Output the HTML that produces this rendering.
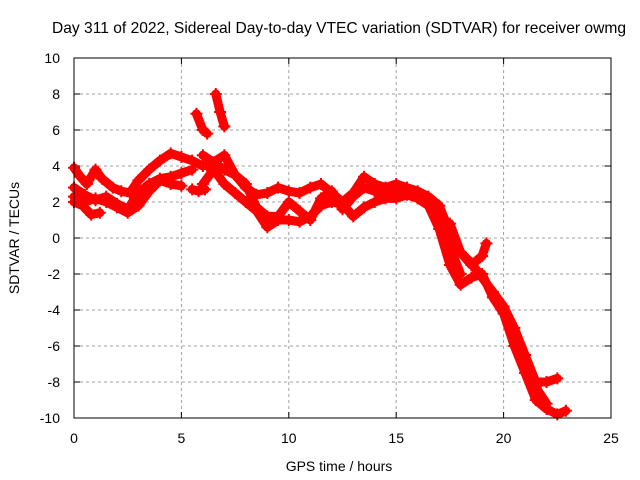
<!DOCTYPE html>
<html><head><meta charset="utf-8"><style>
body{margin:0;background:#fff}
svg{display:block;font-family:"Liberation Sans",sans-serif;font-size:14px}
</style></head><body>
<svg id="chart" width="640" height="480">
<text x="339" y="33" text-anchor="middle" style="font-size:15.6px">Day 311 of 2022, Sidereal Day-to-day VTEC variation (SDTVAR) for receiver owmg</text>
<g id="grid"></g>
<g id="axes"></g>
<g id="series"></g>
<rect x="74" y="58" width="537" height="360" fill="none" stroke="#000" stroke-width="1"/>
<text x="339" y="471" text-anchor="middle">GPS time / hours</text>
<text transform="translate(19,238) rotate(-90)" text-anchor="middle">SDTVAR / TECUs</text>
</svg>
<script>
const xTicks=[0,5,10,15,20,25];
const yTicks=[-10,-8,-6,-4,-2,0,2,4,6,8,10];
const tA=[0,0.3,0.6,1.0,1.3,1.8,2.2,2.6,3.0,3.5,4.0,4.5,5.0,5.5,6.0];
const vA=[3.9,3.4,3.0,3.8,3.3,2.8,2.6,2.5,3.2,3.8,4.3,4.7,4.5,4.3,4.0];
const tB=[0,0.5,1.0,1.5,2.0,2.5,3.0,3.5,4.0,4.5,5.0,5.5];
const vB=[2.8,2.4,2.1,2.3,1.9,1.6,2.5,3.0,3.3,3.4,3.6,3.8];
const tC=[0,0.4,0.8,1.2];
const vC=[2.0,1.8,1.3,1.4];
const tD=[0,0.5,1.0,1.5,2.0,2.5,3.0,3.5,4.0,4.5,5.0];
const vD=[2.3,2.0,2.2,2.0,1.7,1.4,1.8,2.6,3.2,3.0,2.9];
const tS1=[5.7,6.0,6.2];
const vS1=[6.9,6.0,5.8];
const tS2=[6.6,6.8,7.0];
const vS2=[8.0,7.0,6.2];
const tS3=[5.5,5.8,6.1];
const vS3=[2.7,2.6,2.7];
const tE=[6.0,6.5,7,7.5,8,8.5,9,9.5,10,10.5,11,11.5,12,12.5,13,13.5,14,14.5,15,15.5,16,16.5,17,17.5,18,18.5,19,19.5,20,20.5,21,21.5,22,22.5];
const vE=[4.6,4.2,3.8,3.5,2.8,2.4,2.5,2.8,2.6,2.5,2.8,3.0,2.5,2.0,2.5,3.4,3.0,2.8,3.0,2.8,2.6,2.3,1.8,0.3,-0.8,-1.4,-2.2,-3.0,-3.8,-5.0,-6.5,-8.0,-8.0,-7.8];
const tF=[6.0,6.5,7,7.5,8,8.5,9,9.5,10,10.5,11,11.5,12,12.5,13,13.5,14,14.5,15,15.5,16,16.5,17,17.5,18,18.5,19,19.5,20,20.5,21,21.5,22,22.5,22.9];
const vF=[3.0,3.8,3.0,2.5,2.0,1.5,0.6,1.0,1.0,0.9,1.2,1.8,2.0,1.9,1.2,1.7,2.0,2.2,2.2,2.4,2.2,1.8,0.5,-1.5,-2.6,-2.2,-2.0,-3.3,-4.2,-6.0,-7.5,-9.0,-9.5,-9.8,-9.6];
const tG=[6.2,7,7.5,8,8.5,9,9.5,10,10.5,11,11.5,12,12.5,13,13.5,14,14.5,15,15.5,16,16.5,17,17.5,18];
const vG=[4.0,4.6,3.5,3.0,1.7,1.2,1.2,2.0,1.5,1.0,2.2,2.6,1.6,2.3,2.8,2.6,2.3,2.6,2.5,2.2,2.0,1.4,-0.5,-2.0];
const tH=[17.5,18,18.5,19,19.2];
const vH=[0.8,-0.8,-1.5,-1.0,-0.3];
const tI=[20,20.5,21,21.5,22];
const vI=[-4.0,-5.5,-7.0,-8.3,-9.2];
const seriesT=[tA,tB,tC,tD,tS1,tS2,tS3,tE,tF,tG,tH,tI];
const seriesV=[vA,vB,vC,vD,vS1,vS2,vS3,vE,vF,vG,vH,vI];
const X=t=>74+t*537/25, Y=v=>238-v*18;
const NS='http://www.w3.org/2000/svg';
const grid=document.getElementById('grid'),axes=document.getElementById('axes'),ser=document.getElementById('series');
function mk(tag,attrs,parent){const e=document.createElementNS(NS,tag);for(const k in attrs)e.setAttribute(k,attrs[k]);parent.appendChild(e);return e;}
xTicks.forEach(t=>{const x=X(t);
 if(t>0&&t<25){const g=mk('line',{x1:x,x2:x,y1:58,y2:418,stroke:'#a0a0a0','stroke-dasharray':'3,3'},grid);
 
 }
 mk('line',{x1:x,x2:x,y1:418,y2:412,stroke:'#000'},axes);mk('line',{x1:x,x2:x,y1:58,y2:64,stroke:'#000'},axes);
 const l=mk('text',{x:x,y:443,'text-anchor':'middle'},axes);l.textContent=t;
 
 });
yTicks.forEach(v=>{const y=Y(v);
 if(v>-10&&v<10){const g=mk('line',{x1:74,x2:611,y1:y,y2:y,stroke:'#a0a0a0','stroke-dasharray':'3,3'},grid);
 
 }
 mk('line',{x1:74,x2:80,y1:y,y2:y,stroke:'#000'},axes);mk('line',{x1:611,x2:605,y1:y,y2:y,stroke:'#000'},axes);
 const l=mk('text',{x:60,y:y+5,'text-anchor':'end'},axes);l.textContent=v;
 
 });
seriesT.forEach((ts,i)=>{const vs=seriesV[i];
 const pts=ts.map((t,j)=>X(t).toFixed(1)+','+Y(vs[j]).toFixed(1)).join(' ');
 const p=mk('polyline',{points:pts,fill:'none',stroke:'#f00','stroke-width':9,'stroke-linejoin':'round','stroke-linecap':'round'},ser);
 
 
 ts.forEach((t,j)=>{const x=X(t),y=Y(vs[j]);
  const m=mk('path',{d:`M${x-6},${y}H${x+6}M${x},${y-6}V${y+6}`,stroke:'#f00','stroke-width':2},ser);
  
  });
});
</script>
</body></html>
